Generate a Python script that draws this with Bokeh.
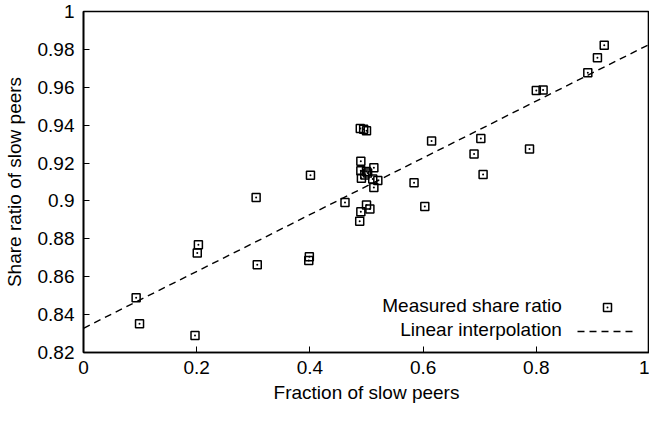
from bokeh.plotting import figure
from bokeh.models import Legend, LegendItem, Range1d, FixedTicker, Label
from bokeh.embed import file_html
from bokeh.resources import INLINE

# Measured share ratio (fraction of slow peers, share ratio)
frac_slow = [0.093, 0.099, 0.197, 0.203, 0.201, 0.305, 0.307, 0.399, 0.398, 0.401,
             0.462, 0.488, 0.490, 0.500, 0.506, 0.489, 0.495, 0.500, 0.490, 0.490,
             0.500, 0.513, 0.491, 0.497, 0.502, 0.511, 0.520, 0.513, 0.615, 0.584,
             0.603, 0.702, 0.690, 0.788, 0.706, 0.920, 0.908, 0.891, 0.800, 0.812]
share_ratio = [0.8489, 0.8352, 0.8290, 0.8769, 0.8725, 0.9018, 0.8663, 0.8705, 0.8686, 0.9135,
               0.8992, 0.8893, 0.8943, 0.8978, 0.8957, 0.9383, 0.9379, 0.9371, 0.9210, 0.9160,
               0.9156, 0.9175, 0.9120, 0.9137, 0.9148, 0.9116, 0.9108, 0.9071, 0.9317, 0.9096,
               0.8971, 0.9329, 0.9248, 0.9274, 0.9139, 0.9822, 0.9756, 0.9677, 0.9583, 0.9586]

# Linear interpolation endpoints
fit_x = [0.0, 1.0]
fit_y = [0.8328, 0.9827]

x_ticks = [0, 0.2, 0.4, 0.6, 0.8, 1.0]
x_tick_labels = ["0", "0.2", "0.4", "0.6", "0.8", "1"]
y_ticks = [0.82, 0.84, 0.86, 0.88, 0.90, 0.92, 0.94, 0.96, 0.98, 1.0]
y_tick_labels = ["0.82", "0.84", "0.86", "0.88", "0.9", "0.92", "0.94", "0.96", "0.98", "1"]

legend_labels = ["Measured share ratio", "Linear interpolation"]

FONT = "Liberation Sans"
FS = "19px"

p = figure(width=649, height=405, output_backend="svg", toolbar_location=None,
           x_range=Range1d(0, 1), y_range=Range1d(0.82, 1.0),
           min_border_left=78, min_border_top=11, min_border_right=0, min_border_bottom=48)

p.xgrid.visible = False
p.ygrid.visible = False
p.outline_line_color = "black"
p.outline_line_width = 1.6
p.outline_line_alpha = 1

for ax, ticks, labels in ((p.xaxis[0], x_ticks, x_tick_labels), (p.yaxis[0], y_ticks, y_tick_labels)):
    ax.ticker = FixedTicker(ticks=ticks)
    ax.major_label_overrides = {t: l for t, l in zip(ticks, labels)}
    ax.major_tick_in = 6
    ax.major_tick_out = 0
    ax.minor_tick_in = 0
    ax.minor_tick_out = 0
    ax.axis_line_color = "black"
    ax.axis_line_width = 1.6
    ax.major_tick_line_width = 1
    ax.major_label_text_font = FONT
    ax.major_label_text_font_size = FS
    ax.major_label_text_color = "black"
    ax.axis_label_text_font = FONT
    ax.axis_label_text_font_size = FS
    ax.axis_label_text_font_style = "normal"
    ax.axis_label_text_color = "black"

p.xaxis.major_label_standoff = 8
p.yaxis.major_label_standoff = 9
p.xaxis.axis_label = "Fraction of slow peers"
p.yaxis.axis_label = "Share ratio of slow peers"
p.xaxis.axis_label_standoff = 5
p.yaxis.axis_label_standoff = 10

pts = p.scatter(frac_slow, share_ratio, marker="square_dot", size=8,
                line_color="black", line_width=1.5, fill_color=None)
ln = p.line(fit_x, fit_y, line_color="black", line_width=1.4, line_dash="7 5")

# legend: glyph samples on the right, texts right-aligned to their left (gnuplot style)
legend = Legend(items=[LegendItem(label=" ", renderers=[pts]),
                       LegendItem(label=" ", renderers=[ln])],
                location=(494, 11), background_fill_alpha=0, border_line_alpha=0,
                label_text_font=FONT, label_text_font_size=FS,
                glyph_width=60, glyph_height=20, spacing=4, padding=0, margin=0,
                label_standoff=0, label_width=0)
p.add_layout(legend)

for lbl, ly in zip(legend_labels, [0.845, 0.8322]):
    p.add_layout(Label(x=0.845, y=ly, text=lbl, text_align="right", text_baseline="middle",
                       text_font=FONT, text_font_size=FS, text_color="black"))

open("out.html", "w").write(file_html(p, INLINE))
